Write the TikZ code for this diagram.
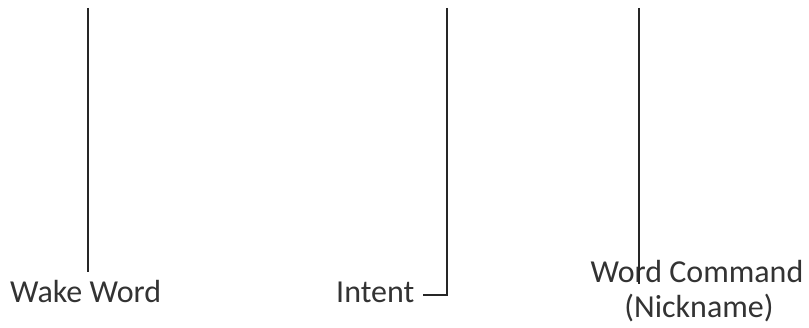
\documentclass[tikz,border=0pt]{standalone}
\usepackage{fontspec}
\setmainfont{Carlito}
\begin{document}
\begin{tikzpicture}[x=1pt,y=-1pt,
  lbl/.style={inner sep=0pt, font=\fontsize{32}{35}\selectfont, text=black!80},
  wire/.style={line width=1.6pt, black!85}]
\useasboundingbox (0,0) rectangle (809,328);
\node[lbl, anchor=base west] (wake) at (10,303) {Wake Word};
\node[lbl, anchor=base west] (intent) at (336,303) {Intent};
\node[lbl, anchor=base] (cmd) at (697,283) {Word Command};
\node[lbl, anchor=base] (nick) at (699,318) {(Nickname)};
\coordinate (t1) at (88,8);
\coordinate (b1) at (88,272);
\coordinate (t2) at (447,8);
\coordinate (b2) at (447,295);
\coordinate (e2) at (423,295);
\coordinate (t3) at (639,8);
\coordinate (b3) at (639,284);
\draw[wire] (t1) -- (b1);
\draw[wire] (t2) -- (b2) -- (e2);
\draw[wire] (t3) -- (b3);
\end{tikzpicture}
\end{document}
